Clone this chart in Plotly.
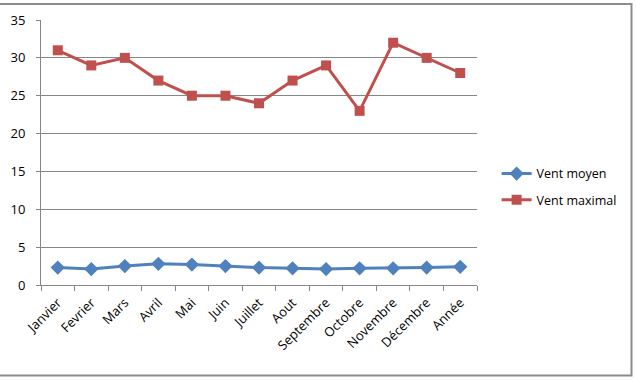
import plotly.graph_objects as go

categories = ["Janvier", "Fevrier", "Mars", "Avril", "Mai", "Juin", "Juillet",
              "Aout", "Septembre", "Octobre", "Novembre", "Décembre", "Année"]
vent_moyen = [2.3, 2.1, 2.5, 2.8, 2.7, 2.5, 2.3, 2.2, 2.1, 2.2, 2.2, 2.3, 2.4]
vent_maximal = [31, 29, 30, 27, 25, 25, 24, 27, 29, 23, 32, 30, 28]
y_ticks = [0, 5, 10, 15, 20, 25, 30, 35]

W, H = 636, 380
L, R, T, B = 41, 159, 20, 95
pw, ph = W - L - R, H - T - B

fig = go.Figure()
fig.add_trace(go.Scatter(
    x=categories, y=vent_moyen, name="Vent moyen", mode="lines+markers",
    legendgroup="a",
    line=dict(color="#4F81BD", width=3),
    marker=dict(symbol="diamond", size=11, color="#4F81BD"),
))
fig.add_trace(go.Scatter(
    x=categories, y=vent_maximal, name="Vent maximal", mode="lines+markers",
    legendgroup="b",
    line=dict(color="#C0504D", width=3),
    marker=dict(symbol="square", size=10, color="#C0504D"),
))

font = dict(family="Open Sans, Liberation Sans, sans-serif", size=13, color="#000000")

fig.update_layout(
    width=W, height=H,
    margin=dict(l=L, r=R, t=T, b=B),
    paper_bgcolor="white", plot_bgcolor="white",
    font=font,
    showlegend=True,
    legend=dict(x=1.045, y=0.37, xanchor="left", yanchor="middle",
                font=dict(family="Open Sans, Liberation Sans, sans-serif", size=12.5),
                itemwidth=30, tracegroupgap=7,
                bgcolor="rgba(0,0,0,0)"),
    xaxis=dict(
        type="category", tickangle=-45, showgrid=False,
        showline=True, linecolor="#868686", linewidth=1,
        ticks="outside", ticklen=5, tickcolor="#868686", tickson="boundaries",
        range=[-0.5, len(categories) - 0.5], ticklabelstandoff=4,
        tickfont=font,
    ),
    yaxis=dict(
        range=[0, 35], tickvals=y_ticks, showgrid=True, gridcolor="#868686",
        gridwidth=1, showline=True, linecolor="#868686", linewidth=1,
        ticks="outside", ticklen=4, tickcolor="#868686", zeroline=False,
        ticklabelstandoff=8,
        tickfont=font,
    ),
    shapes=[dict(
        type="rect", xref="paper", yref="paper",
        x0=(-1 - L) / pw, x1=(631.5 - L) / pw,
        y0=(H - B - 375.5) / ph, y1=(H - B - 4) / ph,
        line=dict(color="#8C8C8C", width=2), layer="below",
    )],
)

fig.write_html("out.html")
